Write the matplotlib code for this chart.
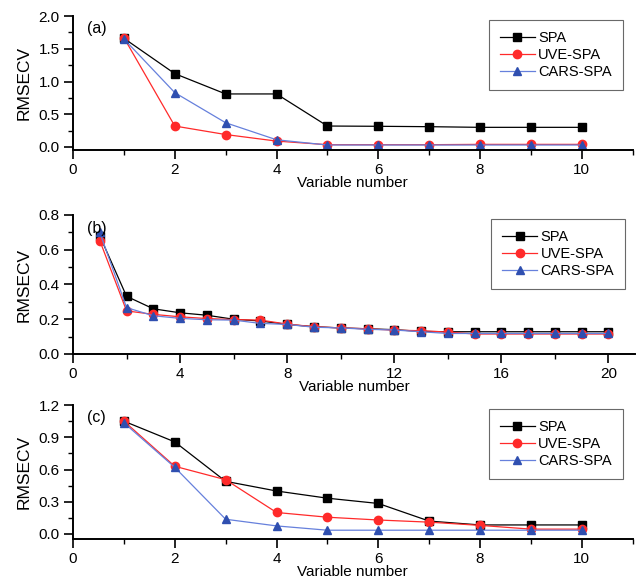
import matplotlib
matplotlib.use('Agg')
import matplotlib.pyplot as plt
from matplotlib.ticker import MultipleLocator

plt.rcParams['font.family'] = ['Liberation Sans', 'DejaVu Sans']
plt.rcParams['font.size'] = 10

# (a)
x_a = list(range(1, 11))
spa_a = [1.66, 1.12, 0.81, 0.81, 0.32, 0.316, 0.31, 0.30, 0.30, 0.30]
uve_a = [1.67, 0.32, 0.19, 0.09, 0.035, 0.035, 0.035, 0.04, 0.04, 0.04]
cars_a = [1.65, 0.83, 0.37, 0.11, 0.03, 0.03, 0.03, 0.03, 0.03, 0.03]

# (b)
x_b = list(range(1, 21))
spa_b = [0.68, 0.332, 0.26, 0.237, 0.223, 0.20, 0.19, 0.17, 0.157, 0.15,
         0.145, 0.14, 0.13, 0.128, 0.128, 0.128, 0.128, 0.128, 0.128, 0.128]
uve_b = [0.653, 0.248, 0.228, 0.214, 0.204, 0.198, 0.195, 0.172, 0.157, 0.15,
         0.145, 0.137, 0.134, 0.126, 0.115, 0.115, 0.115, 0.115, 0.115, 0.115]
cars_b = [0.70, 0.267, 0.22, 0.205, 0.197, 0.195, 0.176, 0.17, 0.154, 0.15,
          0.142, 0.138, 0.128, 0.118, 0.118, 0.118, 0.118, 0.118, 0.118, 0.118]

# (c)
x_c = list(range(1, 11))
spa_c = [1.05, 0.857, 0.49, 0.40, 0.333, 0.284, 0.12, 0.084, 0.084, 0.084]
uve_c = [1.05, 0.63, 0.505, 0.20, 0.156, 0.13, 0.11, 0.08, 0.045, 0.045]
cars_c = [1.035, 0.62, 0.137, 0.075, 0.035, 0.035, 0.035, 0.035, 0.035, 0.035]

labels = ['SPA', 'UVE-SPA', 'CARS-SPA']
panels = [
    ('(a)', x_a, [spa_a, uve_a, cars_a], (0, 11), (-0.046, 2.0), 2, 1, 0.5, 0.25,
     [0.1148, 0.7436, 0.880, 0.229]),
    ('(b)', x_b, [spa_b, uve_b, cars_b], (0, 21), (0.0, 0.8), 4, 2, 0.2, 0.1,
     [0.1148, 0.3949, 0.884, 0.2376]),
    ('(c)', x_c, [spa_c, uve_c, cars_c], (0, 11), (-0.047, 1.2), 2, 1, 0.3, 0.15,
     [0.1148, 0.0786, 0.880, 0.229]),
]

line_colors = ['black', '#ff2a2a', '#6680dc']
face_colors = ['black', '#ff2a2a', '#2f4fb0']
markers = ['s', 'o', '^']

fig = plt.figure(figsize=(6.36, 5.85), dpi=100)

for tag, x, series, xl, yl, xmaj, xmin, ymaj, ymin, pos in panels:
    ax = fig.add_axes(pos)
    for ys, lab, lc, fc, m in zip(series, labels, line_colors, face_colors, markers):
        ax.plot(x, ys, '-', marker=m, color=lc, markerfacecolor=fc,
                markeredgecolor=fc, linewidth=0.9, markersize=6, label=lab)
    ax.set_xlim(*xl)
    ax.set_ylim(*yl)
    ax.xaxis.set_major_locator(MultipleLocator(xmaj))
    ax.xaxis.set_minor_locator(MultipleLocator(xmin))
    ax.yaxis.set_major_locator(MultipleLocator(ymaj))
    ax.yaxis.set_minor_locator(MultipleLocator(ymin))
    ax.yaxis.set_major_formatter(matplotlib.ticker.FormatStrFormatter('%.1f'))
    for s in ['top', 'right']:
        ax.spines[s].set_visible(False)
    for s in ['left', 'bottom']:
        ax.spines[s].set_linewidth(1.4)
    ax.tick_params(which='major', direction='out', length=6.5, width=1.2,
                   labelsize=11, pad=3)
    ax.tick_params(which='minor', direction='out', length=3.5, width=1.0)
    ax.set_xlabel('Variable number', fontsize=11, labelpad=-1)
    ax.set_ylabel('RMSECV', fontsize=12.5, labelpad=5)
    ax.text(0.025, 0.96, tag, transform=ax.transAxes, fontsize=11.5, va='top', ha='left')
    leg = ax.legend(loc='upper right', bbox_to_anchor=(0.99, 1.0), fancybox=False,
                    edgecolor='#444444', fontsize=10.5, handlelength=2.4,
                    borderpad=0.75, labelspacing=0.2, handletextpad=0.25,
                    borderaxespad=0.3)
    leg.get_frame().set_linewidth(0.8)

plt.savefig('out.png', dpi=100)
